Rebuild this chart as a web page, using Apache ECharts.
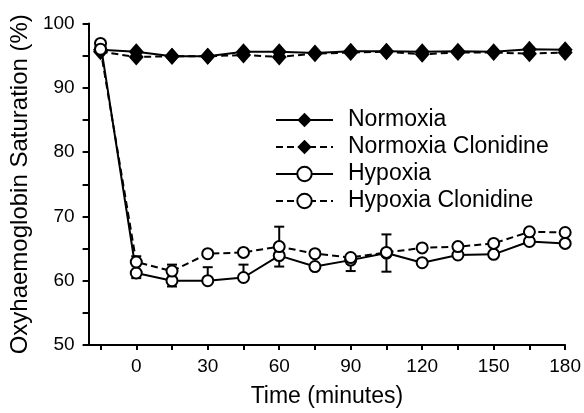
<!DOCTYPE html>
<html>
<head>
<meta charset="utf-8">
<script src="https://cdn.jsdelivr.net/npm/echarts@6/dist/echarts.min.js"></script>
<style>
html, body { margin: 0; padding: 0; background: #fff; }
#chart { width: 584px; height: 413px; }
</style>
</head>
<body>
<div id="chart"></div>
<script>
// time points (minutes)
const times = [-15, 0, 15, 30, 45, 60, 75, 90, 105, 120, 135, 150, 165, 180];

// oxyhaemoglobin saturation (%) per group
const normoxia          = [95.9, 95.6, 94.9, 94.9, 95.6, 95.6, 95.4, 95.7, 95.7, 95.6, 95.7, 95.6, 96.0, 95.9];
const normoxiaClonidine = [95.6, 94.8, 94.9, 94.9, 95.1, 94.8, 95.3, 95.5, 95.6, 95.2, 95.5, 95.5, 95.3, 95.5];
const hypoxia           = [96.9, 61.2, 60.0, 60.0, 60.5, 63.9, 62.2, 63.2, 64.3, 62.8, 64.0, 64.1, 66.1, 65.8];
const hypoxiaClonidine  = [96.0, 62.9, 61.5, 64.2, 64.4, 65.3, 64.2, 63.6, 64.4, 65.1, 65.3, 65.8, 67.6, 67.5];

// visible error bar lengths (up / down)
const hypoxiaErrUp     = [0, 0, 0, 2.1, 2.0, 0, 0, 0, 2.9, 0, 0, 0, 0, 0];
const hypoxiaErrDown   = [0, 0.8, 0.9, 0, 0, 0, 0, 1.7, 2.9, 0, 0, 0, 0, 0];
const hypClonErrUp     = [0, 0.9, 1.0, 0, 0, 3.1, 0, 0, 0, 0, 0, 0, 0, 0];
const hypClonErrDown   = [0, 0, 0, 0, 0, 3.1, 0, 0, 0, 0, 0, 0, 0, 0];

// axis ticks / labels
const xTicks  = [-15, 0, 15, 30, 45, 60, 75, 90, 105, 120, 135, 150, 165, 180];
const xLabels = [0, 30, 60, 90, 120, 150, 180];
const yTicks  = [50, 55, 60, 65, 70, 75, 80, 85, 90, 95, 100];
const yLabels = [50, 60, 70, 80, 90, 100];

const font = 'Liberation Sans, Arial, Helvetica, sans-serif';

function pairs(vals) {
  return times.map((t, i) => [t, vals[i]]);
}

function errData(vals, up, down) {
  const out = [];
  times.forEach((t, i) => {
    if (up[i] || down[i]) out.push([t, vals[i], up[i], down[i]]);
  });
  return out;
}

function renderErr(params, api) {
  const t = api.value(0), v = api.value(1), up = api.value(2), dn = api.value(3);
  const c = api.coord([t, v]);
  const top = api.coord([t, v + up]);
  const bot = api.coord([t, v - dn]);
  const w = 5;
  const st = { stroke: '#000', lineWidth: 2 };
  const children = [
    { type: 'line', shape: { x1: c[0], y1: top[1], x2: c[0], y2: bot[1] }, style: st }
  ];
  if (up) children.push({ type: 'line', shape: { x1: c[0] - w, y1: top[1], x2: c[0] + w, y2: top[1] }, style: st });
  if (dn) children.push({ type: 'line', shape: { x1: c[0] - w, y1: bot[1], x2: c[0] + w, y2: bot[1] }, style: st });
  return { type: 'group', children: children };
}

const chart = echarts.init(document.getElementById('chart'));

const lineBase = {
  type: 'line',
  showSymbol: true,
  animation: false,
  z: 3
};

const option = {
  animation: false,
  grid: { left: 86, right: 18, top: 23.5, bottom: 66 },
  legend: {
    data: ['Normoxia', 'Normoxia Clonidine', 'Hypoxia', 'Hypoxia Clonidine'],
    orient: 'vertical',
    left: 275,
    top: 108,
    padding: 0,
    itemWidth: 57,
    itemHeight: 18,
    itemGap: 3,
    selectedMode: false,
    textStyle: { fontFamily: font, fontSize: 23, color: '#000', lineHeight: 24, padding: [0, 0, 0, 10] }
  },
  xAxis: {
    type: 'value',
    min: -20,
    max: 180,
    name: 'Time (minutes)',
    nameLocation: 'middle',
    nameGap: 40,
    nameTextStyle: { fontFamily: font, fontSize: 23, color: '#000' },
    splitLine: { show: false },
    axisLine: { onZero: false, lineStyle: { color: '#000', width: 2 } },
    axisTick: { show: true, length: 5, lineStyle: { color: '#000', width: 2 }, customValues: xTicks },
    axisLabel: { fontFamily: font, fontSize: 19, color: '#000', margin: 12, customValues: xLabels }
  },
  yAxis: {
    type: 'value',
    min: 50,
    max: 100,
    name: 'Oxyhaemoglobin Saturation (%)',
    nameLocation: 'middle',
    nameGap: 52,
    nameTextStyle: { fontFamily: font, fontSize: 24, color: '#000' },
    splitLine: { show: false },
    axisLine: { show: true, onZero: false, lineStyle: { color: '#000', width: 2 } },
    axisTick: { show: true, length: 6, lineStyle: { color: '#000', width: 2 }, customValues: yTicks },
    axisLabel: { fontFamily: font, fontSize: 19, color: '#000', margin: 14, customValues: yLabels }
  },
  series: [
    {
      type: 'custom',
      name: 'errH',
      renderItem: renderErr,
      encode: { x: 0, y: 1 },
      data: errData(hypoxia, hypoxiaErrUp, hypoxiaErrDown),
      z: 2,
      silent: true
    },
    {
      type: 'custom',
      name: 'errHC',
      renderItem: renderErr,
      encode: { x: 0, y: 1 },
      data: errData(hypoxiaClonidine, hypClonErrUp, hypClonErrDown),
      z: 2,
      silent: true
    },
    Object.assign({}, lineBase, {
      name: 'Normoxia',
      data: pairs(normoxia),
      symbol: 'diamond',
      symbolSize: [15, 17],
      itemStyle: { color: '#000' },
      lineStyle: { color: '#000', width: 2 }
    }),
    Object.assign({}, lineBase, {
      name: 'Normoxia Clonidine',
      data: pairs(normoxiaClonidine),
      symbol: 'diamond',
      symbolSize: [15, 17],
      itemStyle: { color: '#000' },
      lineStyle: { color: '#000', width: 2, type: [7, 4] }
    }),
    Object.assign({}, lineBase, {
      name: 'Hypoxia',
      data: pairs(hypoxia),
      symbol: 'circle',
      symbolSize: 11,
      itemStyle: { color: '#fff', borderColor: '#000', borderWidth: 2 },
      lineStyle: { color: '#000', width: 2 }
    }),
    Object.assign({}, lineBase, {
      name: 'Hypoxia Clonidine',
      data: pairs(hypoxiaClonidine),
      symbol: 'circle',
      symbolSize: 11,
      itemStyle: { color: '#fff', borderColor: '#000', borderWidth: 2 },
      lineStyle: { color: '#000', width: 2, type: [7, 4] }
    })
  ]
};

chart.setOption(option);
</script>
</body>
</html>
